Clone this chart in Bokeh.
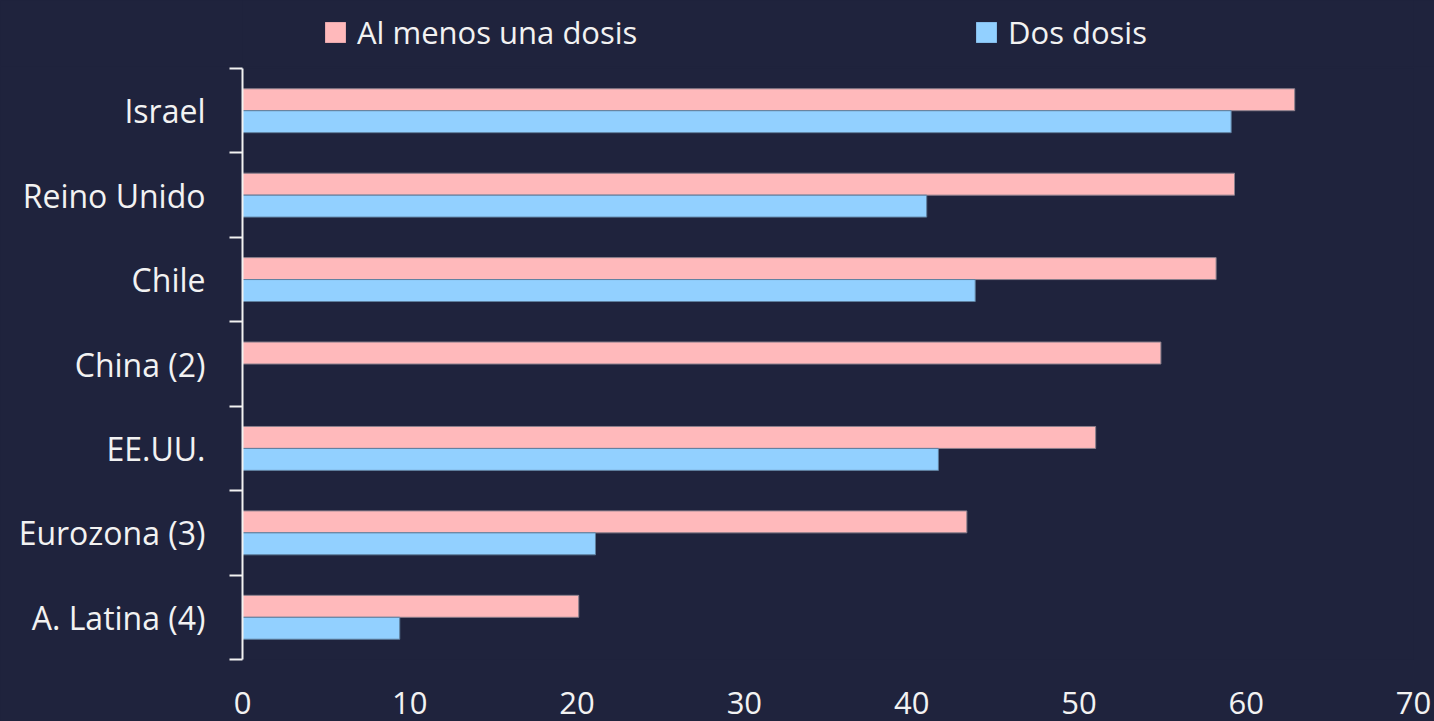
from bokeh.plotting import figure
from bokeh.layouts import column
from bokeh.models import ColumnDataSource, FixedTicker, Legend, LegendItem
from bokeh.embed import file_html
from bokeh.resources import INLINE

categories = ["Israel", "Reino Unido", "Chile", "China (2)", "EE.UU.", "Eurozona (3)", "A. Latina (4)"]
al_menos_una = [62.9, 59.3, 58.2, 54.9, 51.0, 43.3, 20.1]
dos_dosis = [59.1, 40.9, 43.8, None, 41.6, 21.1, 9.4]
x_ticks = [0, 10, 20, 30, 40, 50, 60, 70]
series_names = ["Al menos una dosis", "Dos dosis"]

BG = "#1f233d"
PINK = "#ffb9bb"
BLUE = "#92d0ff"
FONT = "Open Sans"
TXT = "#f2f2f2"
W = 1434
TOP_H = 66

n = len(categories)
centers = [n - 1 - i + 0.5 for i in range(n)]

src1 = ColumnDataSource(dict(y=[c + 0.13 for c in centers], v=al_menos_una))
idx2 = [i for i, v in enumerate(dos_dosis) if v is not None]
src2 = ColumnDataSource(dict(y=[centers[i] - 0.13 for i in idx2], v=[dos_dosis[i] for i in idx2]))

# ---- legend strip (top) ----
top = figure(width=W, height=TOP_H, x_range=(0, 70), y_range=(0, 1),
             output_backend="svg", toolbar_location=None,
             x_axis_type=None, y_axis_type=None,
             background_fill_color=BG, border_fill_color=BG,
             min_border=0)
top.outline_line_color = None
top.grid.visible = False
lr1 = top.hbar(y="y", right="v", left=0, height=0.26, source=src1, fill_color=PINK,
               line_color=None, visible=False)
lr2 = top.hbar(y="y", right="v", left=0, height=0.26, source=src2, fill_color=BLUE,
               line_color=None, visible=False)

def make_legend(item_label, renderer, loc):
    lg = Legend(items=[LegendItem(label=item_label, renderers=[renderer])], location=loc,
                orientation="horizontal", background_fill_alpha=0, border_line_color=None,
                padding=0, margin=0, glyph_width=26, glyph_height=26, label_height=44,
                label_standoff=9, label_text_color=TXT, label_text_font=FONT,
                label_text_font_size="31px")
    top.add_layout(lg, "center")

make_legend(series_names[0], lr1, (80, 12))
make_legend(series_names[1], lr2, (731, 12))

# ---- main chart ----
p = figure(width=W, height=721 - TOP_H, x_range=(0, 70), y_range=(0, n),
           output_backend="svg", toolbar_location=None,
           background_fill_color=BG, border_fill_color=BG,
           min_border_left=242, min_border_top=2, min_border_right=21, min_border_bottom=62)
p.outline_line_color = None
p.grid.visible = False

p.hbar(y="y", right="v", left=0, height=0.26, source=src1, fill_color=PINK,
       line_color="#8a7f8c", line_width=1)
p.hbar(y="y", right="v", left=0, height=0.26, source=src2, fill_color=BLUE,
       line_color="#5f7f9e", line_width=1)

ya = p.yaxis[0]
ya.ticker = FixedTicker(ticks=centers, minor_ticks=list(range(0, n + 1)))
ya.major_label_overrides = {c: categories[i] for i, c in enumerate(centers)}
ya.major_tick_line_color = None
ya.major_tick_out = 0
ya.major_tick_in = 0
ya.minor_tick_line_color = TXT
ya.minor_tick_line_width = 2
ya.minor_tick_out = 13
ya.minor_tick_in = 0
ya.axis_line_color = TXT
ya.axis_line_width = 2
ya.major_label_text_color = TXT
ya.major_label_text_font = FONT
ya.major_label_text_font_size = "32px"
ya.major_label_standoff = 24

xa = p.xaxis[0]
xa.ticker = FixedTicker(ticks=x_ticks, minor_ticks=[])
xa.axis_line_color = None
xa.major_tick_line_color = None
xa.minor_tick_line_color = None
xa.major_label_text_color = TXT
xa.major_label_text_font = FONT
xa.major_label_text_font_size = "31px"
xa.major_label_standoff = 26

layout = column(top, p, spacing=0)
html = file_html(layout, INLINE)
html = html.replace("</head>", "<style>html, body { background-color: #1f233d !important; }</style></head>", 1)
open("out.html", "w").write(html)
